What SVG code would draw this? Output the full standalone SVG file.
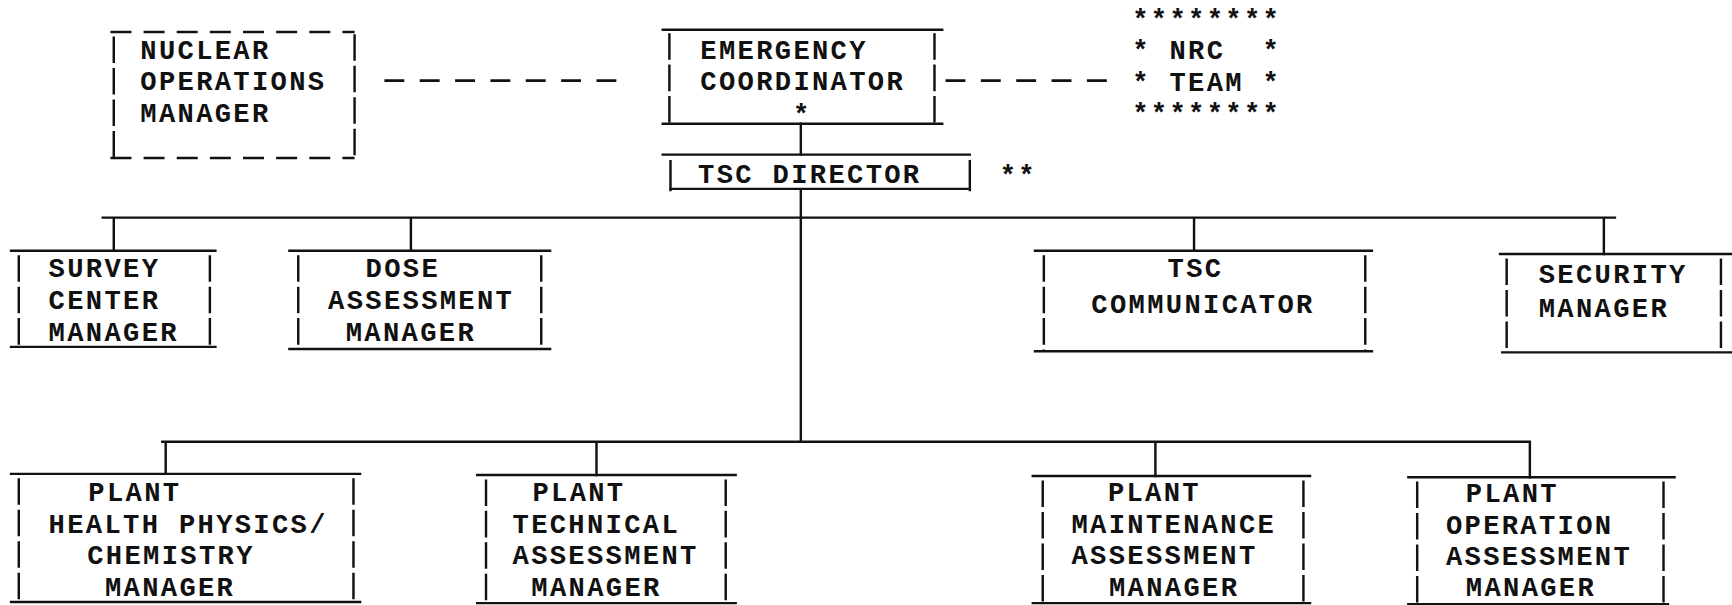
<svg xmlns="http://www.w3.org/2000/svg" width="1732" height="605" viewBox="0 0 1732 605">
<style>
.ln{stroke:#111;stroke-width:2.2;fill:none;stroke-linecap:square}
.bar{stroke:#111;stroke-width:2.2;fill:none;stroke-dasharray:24 4.5}
.dsh{stroke:#111;stroke-width:2.4;fill:none;stroke-dasharray:18 14}
.dbox{stroke:#111;stroke-width:2.4;fill:none;stroke-dasharray:19 11}
text{font-family:"Liberation Mono","Courier New",monospace;font-size:24.6px;letter-spacing:2.1px;font-weight:bold;fill:#111}
</style>
<rect width="1732" height="605" fill="#fff"/>
<g transform="scale(1.10459)">
<g id="connectors">
<path class="ln" d="M725,112 V140 M725,172 V400 M93,197 H1462 M103,197 V227 M372,197 V227 M1081,197 V227 M1452,197 V230 M147,400 H1385 M150,400 V429 M540,400 V430 M1046,400 V431 M1385,400 V432"/>
<path class="dsh" d="M348,73 H570"/>
<path class="dsh" d="M856,73 H1006"/>
</g>
<g id="nuclear">
<path class="dbox" d="M100,29 H321 M100,143 H321"/>
<path class="bar" d="M103,33 V143 M321,31 V143"/>
<text x="127" y="53">NUCLEAR</text>
<text x="127" y="81.5">OPERATIONS</text>
<text x="127" y="110">MANAGER</text>
</g>
<g id="emergency">
<path class="ln" d="M600,27 H853 M600,112 H853"/>
<path class="bar" d="M606,30 V112 M846,30 V112"/>
<text x="634" y="53">EMERGENCY</text>
<text x="634" y="81.5">COORDINATOR</text>
<text x="718" y="111">*</text>
</g>
<g id="nrc">
<text x="1025" y="25">********</text>
<text x="1025" y="53.5" xml:space="preserve">* NRC  *</text>
<text x="1025" y="82">* TEAM *</text>
<text x="1025" y="110.5">********</text>
</g>
<g id="tsc-director">
<path class="ln" d="M600,140 H878 M607,171 H876"/>
<path class="ln" d="M607,146 V172 M878,146 V172"/>
<text x="632" y="166">TSC DIRECTOR</text>
<text x="905" y="167">**</text>
</g>
<g id="survey">
<path class="ln" d="M10,227 H195 M10,314 H195"/>
<path class="bar" d="M17,231 V314 M190,231 V314"/>
<text x="44" y="251">SURVEY</text>
<text x="44" y="280">CENTER</text>
<text x="44" y="309">MANAGER</text>
</g>
<g id="dose">
<path class="ln" d="M262,227 H498 M262,316 H498"/>
<path class="bar" d="M270,231 V316 M490,231 V316"/>
<text x="331" y="251">DOSE</text>
<text x="297" y="280">ASSESSMENT</text>
<text x="313" y="309">MANAGER</text>
</g>
<g id="tsc-communicator">
<path class="ln" d="M937,227 H1242 M937,318 H1242"/>
<path class="bar" d="M945,231 V318 M1236,231 V318"/>
<text x="1057" y="251">TSC</text>
<text x="988" y="283">COMMUNICATOR</text>
</g>
<g id="security">
<path class="ln" d="M1358,230 H1570 M1360,319 H1570"/>
<path class="bar" d="M1364,234 V319 M1558,234 V319"/>
<text x="1393" y="256">SECURITY</text>
<text x="1393" y="287">MANAGER</text>
</g>
<g id="health-physics">
<path class="ln" d="M10,429 H326 M10,545 H326"/>
<path class="bar" d="M17,433 V545 M320,433 V545"/>
<text x="80" y="454">PLANT</text>
<text x="44" y="482.5">HEALTH PHYSICS/</text>
<text x="79" y="511">CHEMISTRY</text>
<text x="95" y="539.5">MANAGER</text>
</g>
<g id="technical">
<path class="ln" d="M432,430 H666 M432,546 H666"/>
<path class="bar" d="M440,434 V546 M657,434 V546"/>
<text x="482" y="454">PLANT</text>
<text x="464" y="482.5">TECHNICAL</text>
<text x="464" y="511">ASSESSMENT</text>
<text x="481" y="539.5">MANAGER</text>
</g>
<g id="maintenance">
<path class="ln" d="M935,431 H1186 M935,546 H1186"/>
<path class="bar" d="M944,435 V546 M1180,435 V546"/>
<text x="1003" y="454">PLANT</text>
<text x="970" y="482.5">MAINTENANCE</text>
<text x="970" y="511">ASSESSMENT</text>
<text x="1004" y="539.5">MANAGER</text>
</g>
<g id="operation">
<path class="ln" d="M1275,432 H1516 M1275,547 H1510"/>
<path class="bar" d="M1283,436 V547 M1506,436 V547"/>
<text x="1327" y="454.5">PLANT</text>
<text x="1309" y="483">OPERATION</text>
<text x="1309" y="511.5">ASSESSMENT</text>
<text x="1327" y="539.5">MANAGER</text>
</g>
</g>
</svg>
